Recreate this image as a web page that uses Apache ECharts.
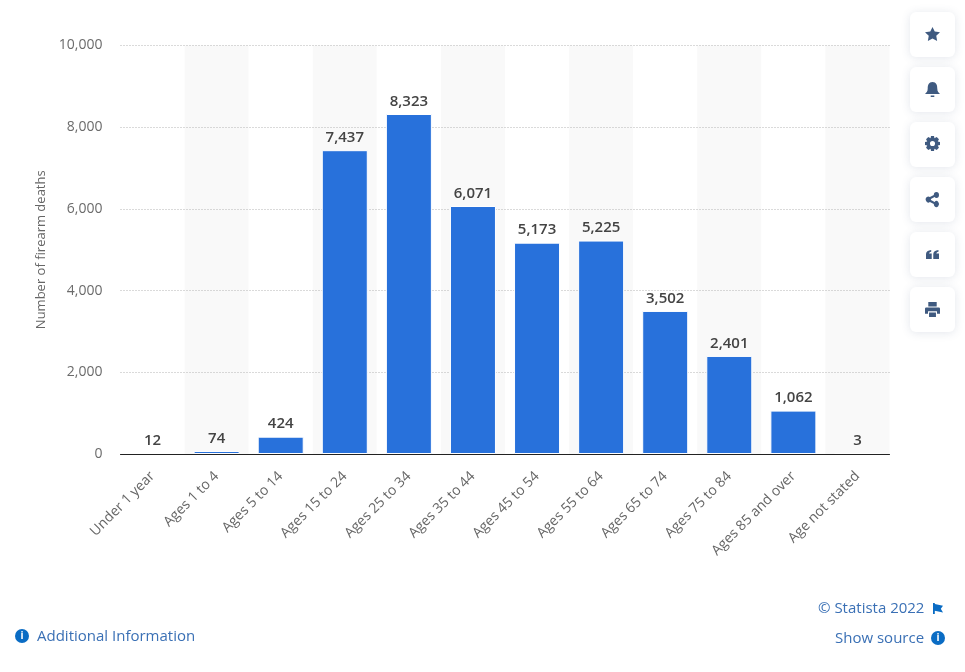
<!DOCTYPE html>
<html>
<head>
<meta charset="utf-8">
<style>
  html, body { margin: 0; padding: 0; background: #fff; }
  #chart { width: 965px; height: 672px; }
</style>
<script src="https://cdn.jsdelivr.net/npm/echarts@6/dist/echarts.min.js"></script>
</head>
<body>
<div id="chart"></div>
<script>
const categories = ['Under 1 year', 'Ages 1 to 4', 'Ages 5 to 14', 'Ages 15 to 24', 'Ages 25 to 34', 'Ages 35 to 44',
  'Ages 45 to 54', 'Ages 55 to 64', 'Ages 65 to 74', 'Ages 75 to 84', 'Ages 85 and over', 'Age not stated']
const deaths = [12, 74, 424, 7437, 8323, 6071, 5173, 5225, 3502, 2401, 1062, 3]
const buttonTops = [12, 67, 122, 177, 232, 287]

const font = '"Open Sans", sans-serif'
const iconColor = '#3f5a80'
const linkColor = '#3a70b5'
const infoColor = '#0a6cc4'

// 图标路径都按 100x100 画，用的时候再缩放
const iconPaths = {
  star: 'M50 0L65 33L100 38L75 62L81 100L50 82L19 100L25 62L0 38L35 33Z',
  bell: 'M50 0C75 0 82 20 82 45C82 65 92 72 100 80L0 80C8 72 18 65 18 45C18 20 25 0 50 0ZM38 90L62 90L62 100L38 100Z',
  gear: 'M40 0L60 0L63 15L78 7L93 22L85 37L100 40L100 60L85 63L93 78L78 93L63 85L60 100L40 100L37 85L22 93L7 78L15 63L0 60L0 40L15 37L7 22L22 7L37 15ZM50 33A17 17 0 1 0 50 67A17 17 0 1 0 50 33Z',
  share: 'M80 0A20 20 0 1 1 80 40A20 20 0 0 1 66 34L38 47L38 53L66 66A20 20 0 1 1 60 80L30 66A20 20 0 1 1 30 34L60 20A20 20 0 0 1 80 0Z',
  quote: 'M0 45C0 20 15 5 40 0L40 20C28 22 24 30 24 40L44 40L44 100L0 100ZM56 45C56 20 71 5 96 0L96 20C84 22 80 30 80 40L100 40L100 100L56 100Z',
  print: 'M22 0L78 0L78 30L22 30ZM8 36L92 36C97 36 100 40 100 45L100 78L80 78L80 62L20 62L20 78L0 78L0 45C0 40 3 36 8 36ZM27 70L73 70L73 100L27 100Z',
  flag: 'M0 0L18 0L18 8L100 24L78 52L100 86L18 70L18 100L0 100Z'
}
Object.keys(iconPaths).forEach((name) => {
  echarts.graphic.registerShape('icon_' + name, echarts.graphic.extendPath(iconPaths[name], {}))
})

// 右侧按钮背景
const buttons = buttonTops.map((top) => ({
  type: 'rect',
  shape: { x: 910, y: top, width: 45, height: 45, r: 6 },
  style: { fill: '#fff', shadowBlur: 10, shadowColor: 'rgba(60,80,120,0.14)', shadowOffsetY: 1 }
}))

const icon = (name, x, y, w, h, fill) => ({
  type: 'icon_' + name,
  x,
  y,
  scaleX: w / 100,
  scaleY: h / 100,
  style: { fill: fill || iconColor }
})

const icons = [
  icon('star', 925, 27, 15, 14),
  icon('bell', 925, 82, 15, 15),
  icon('gear', 925, 136, 15, 15),
  icon('share', 926, 192, 13, 15),
  icon('quote', 926, 250, 13, 9),
  icon('print', 925, 302, 15, 15)
]

const infoIcon = (cx, cy) => [
  { type: 'circle', shape: { cx, cy, r: 7 }, style: { fill: infoColor } },
  { type: 'text', style: { x: cx, y: cy, text: 'i', fill: '#fff', font: 'bold 10px ' + font, align: 'center', verticalAlign: 'middle' } }
]

const links = [
  { type: 'text', style: { x: 818, y: 609, text: '© Statista 2022', fill: linkColor, font: '15px ' + font, verticalAlign: 'middle' } },
  icon('flag', 933, 603, 10, 11, infoColor),
  { type: 'text', style: { x: 835, y: 639, text: 'Show source', fill: linkColor, font: '15px ' + font, verticalAlign: 'middle' } },
  ...infoIcon(938, 638),
  ...infoIcon(22, 636),
  { type: 'text', style: { x: 37, y: 637, text: 'Additional Information', fill: linkColor, font: '15px ' + font, verticalAlign: 'middle' } }
]

const myChart = echarts.init(document.getElementById('chart'))

const option = {
  backgroundColor: '#fff',
  animation: false,
  textStyle: { fontFamily: font },
  grid: { left: 120.5, right: 75.5, top: 45.5, bottom: 218 },
  xAxis: [
    {
      type: 'category',
      data: categories,
      axisLine: { show: false },
      axisTick: { show: false },
      axisLabel: { interval: 0, rotate: 45, color: '#666', fontSize: 14, fontFamily: font, margin: 20 },
      splitArea: { show: true, areaStyle: { color: ['#fff', '#f9f9f9'] } }
    },
    // 第二根 x 轴只画基线，盖在柱子上面
    {
      type: 'category',
      position: 'bottom',
      z: 5,
      data: categories,
      axisLine: { lineStyle: { color: '#222', width: 1 } },
      axisTick: { show: false },
      axisLabel: { show: false }
    }
  ],
  yAxis: {
    type: 'value',
    z: 1, // 网格线要盖在 x 轴的灰色条带上面
    min: 0,
    max: 10000,
    interval: 2000,
    name: 'Number of firearm deaths',
    nameLocation: 'middle',
    nameGap: 73,
    nameTextStyle: { color: '#666', fontSize: 13, fontFamily: font },
    axisLine: { show: false },
    axisTick: { show: false },
    axisLabel: {
      color: '#6b6b6b',
      fontSize: 14,
      fontFamily: font,
      margin: 18,
      padding: [7, 0, 0, 0],
      formatter: (v) => v.toLocaleString('en-US')
    },
    splitLine: { lineStyle: { color: '#b5b5b5', type: [1, 2], width: 1 } }
  },
  series: [
    {
      type: 'bar',
      z: 3,
      data: deaths,
      barWidth: 46,
      itemStyle: { color: '#2871db', borderColor: '#fff', borderWidth: 1 },
      label: {
        show: true,
        position: 'top',
        distance: 5,
        color: '#444',
        fontSize: 15,
        fontWeight: 600,
        fontFamily: font,
        formatter: (p) => p.value.toLocaleString('en-US')
      }
    }
  ],
  graphic: { elements: [...buttons, ...icons, ...links] }
}

option && myChart.setOption(option)
</script>
</body>
</html>
